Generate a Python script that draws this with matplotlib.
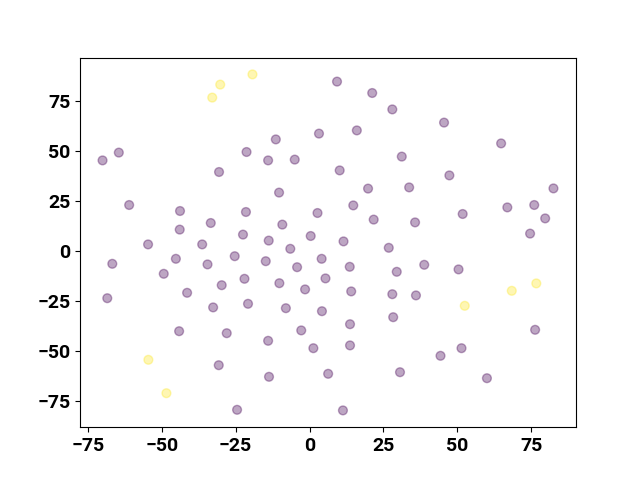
import numpy as np
import matplotlib
matplotlib.use("Agg")
import matplotlib.pyplot as plt

plt.rcParams['font.family'] = ['Roboto', 'DejaVu Sans']
plt.rcParams['font.weight'] = 'bold'
plt.rcParams['font.size'] = 14

# puntos de la clase 0 (morado)
x0 = [3.2, -11.4, -64.5, -70.0, -21.3, -14.0, -5.0, -30.6, -10.3, -61.0,
      -43.8, -21.5, 2.7, -33.4, -9.2, -43.9, -22.5, -13.8, 0.4, -54.6,
      -36.3, -6.5, 9.3, 21.2, 28.0, 45.5, 16.0, 64.8, 31.2, 10.2,
      47.3, 19.8, 33.7, 82.5, 14.8, 66.9, 76.0, 21.7, 35.7, 51.8,
      79.7, 74.6, 11.5, 26.8, -66.7, -45.2, -34.5, -25.3, -14.8, -4.2,
      4.1, -49.3, -22.0, -10.2, 5.4, -29.7, -1.5, -68.4, -41.4, -32.6,
      -20.8, -8.0, 4.2, -44.1, -28.0, -14.0, -2.8, 1.3, -30.7, -13.7,
      6.3, -24.5, 13.6, 29.5, 38.8, 50.4, 14.1, 28.0, 36.0, 13.7,
      28.3, 76.3, 13.7, 44.3, 51.4, 30.6, 60.0, 11.3]
y0 = [58.9, 56.0, 49.4, 45.5, 49.7, 45.5, 45.9, 39.7, 29.4, 23.2,
      20.2, 19.7, 19.2, 14.2, 13.4, 10.9, 8.4, 5.4, 7.7, 3.5,
      3.5, 1.3, 84.9, 79.2, 71.0, 64.4, 60.5, 54.0, 47.4, 40.5,
      38.0, 31.4, 32.0, 31.5, 23.0, 22.0, 23.2, 15.9, 14.5, 18.7,
      16.5, 8.9, 5.0, 1.8, -6.2, -3.7, -6.5, -2.4, -4.9, -7.9,
      -3.7, -11.2, -13.7, -15.9, -13.5, -16.9, -19.0, -23.4, -20.7, -28.0,
      -26.2, -28.4, -29.9, -39.9, -40.9, -44.7, -39.5, -48.4, -56.9, -62.7,
      -61.2, -79.2, -7.7, -10.2, -6.7, -9.0, -20.0, -21.4, -22.0, -36.4,
      -32.9, -39.2, -47.0, -52.2, -48.4, -60.4, -63.4, -79.5]

# puntos de la clase 1 (amarillo)
x1 = [-19.3, -30.2, -32.9, -54.5, -48.4, 52.5, 68.4, 76.7]
y1 = [88.5, 83.4, 76.9, -54.2, -70.9, -27.2, -19.7, -16.0]

x = np.array(x0 + x1)
y = np.array(y0 + y1)
c = np.array([0] * len(x0) + [1] * len(x1))

plt.figure(figsize=(6.4, 4.8), dpi=100)
plt.scatter(x, y, c=c, cmap='viridis', alpha=0.35, s=40)
plt.savefig("out.png")
